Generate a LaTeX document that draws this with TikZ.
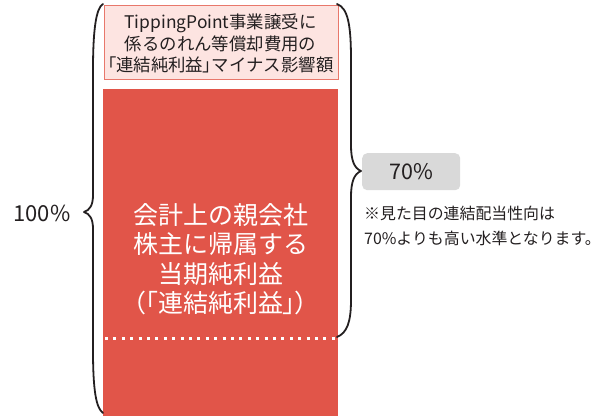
\documentclass[tikz,border=0pt]{standalone}
\usepackage{fontspec}
\setmainfont{Noto Sans CJK JP}
\newfontfamily\paltfont[RawFeature=+palt]{Noto Sans CJK JP}
\newcommand{\pb}[1]{{\paltfont #1}}
\definecolor{barred}{HTML}{E15549}
\definecolor{pinkfill}{HTML}{FDE4E1}
\definecolor{pinkline}{HTML}{E8776B}
\definecolor{graybg}{HTML}{D9D9D9}
\definecolor{ink}{HTML}{231F20}
\tikzset{
  pinkbox/.style={draw=pinkline, line width=1.2pt, fill=pinkfill, inner sep=0pt, text=ink, align=center,
    font=\fontsize{17.4}{21.5}\selectfont},
  redbox/.style={fill=barred, draw=none, inner sep=0pt},
  redtext/.style={text=white, align=center, font=\fontsize{25}{29.5}\selectfont},
  graybox/.style={fill=graybg, draw=none, rounded corners=5pt, inner sep=0pt, text=ink,
    font=\fontsize{21.5}{24}\selectfont},
  notetext/.style={text=ink, align=left, inner sep=0pt, font=\fontsize{15.9}{24.5}\selectfont},
  bigpct/.style={text=ink, inner sep=0pt, font=\fontsize{22}{24}\selectfont},
  bracepath/.style={draw=ink, line width=1.8pt, line cap=round, line join=round},
  dotline/.style={draw=white, line width=3pt, dash pattern=on 3pt off 5.4pt}
}
\begin{document}
\begin{tikzpicture}[x=1pt,y=-1pt]
\useasboundingbox (0,0) rectangle (602,415);
% red bar
\node[redbox, anchor=north west, minimum width=235pt, minimum height=327pt] (net) at (103,89) {};
% pink box
\node[pinkbox, anchor=north west, minimum width=234pt, minimum height=74pt] (cost) at (103.5,5) {};
\node[pinkbox, draw=none, fill=none] (costtxt) at (220.5,43.5) {TippingPoint事業譲受に\\係るのれん等償却費用の\\\pb{「}連結純利益\pb{」}マイナス影響額};
% red text
\node[redtext] (nettxt) at (220.5,259) {会計上の親会社\\株主に帰属する\\当期純利益\\\pb{（「}連結純利益\pb{」）}};
% dotted line
\coordinate (dl) at (105,338);
\coordinate (dr) at (338,338);
\draw[dotline] (dl) -- (dr);
% right brace
\path[bracepath] (337,4) .. controls (348,8) and (351,25) .. (351,60) -- (351,145)
  .. controls (351,160) and (354,168) .. (361,171)
  .. controls (354,174) and (351,182) .. (351,197) -- (351,300)
  .. controls (351,322) and (347,333) .. (337,337);
% left brace
\path[bracepath] (103,4) .. controls (96,8) and (93,30) .. (93,70) -- (93,195)
  .. controls (93,205) and (90,210) .. (84,212)
  .. controls (90,214) and (93,219) .. (93,229) -- (93,350)
  .. controls (93,390) and (96,408) .. (103,413);
% labels
\node[bigpct] (hundred) at (42,213) {100\%};
\node[graybox, anchor=north west, minimum width=98pt, minimum height=37pt] (seventy) at (362,153) {70\%};
\node[notetext, anchor=west] (note) at (364,226) {※見た目の連結配当性向は\\70\%よりも高い水準となります。};
\end{tikzpicture}
\end{document}
